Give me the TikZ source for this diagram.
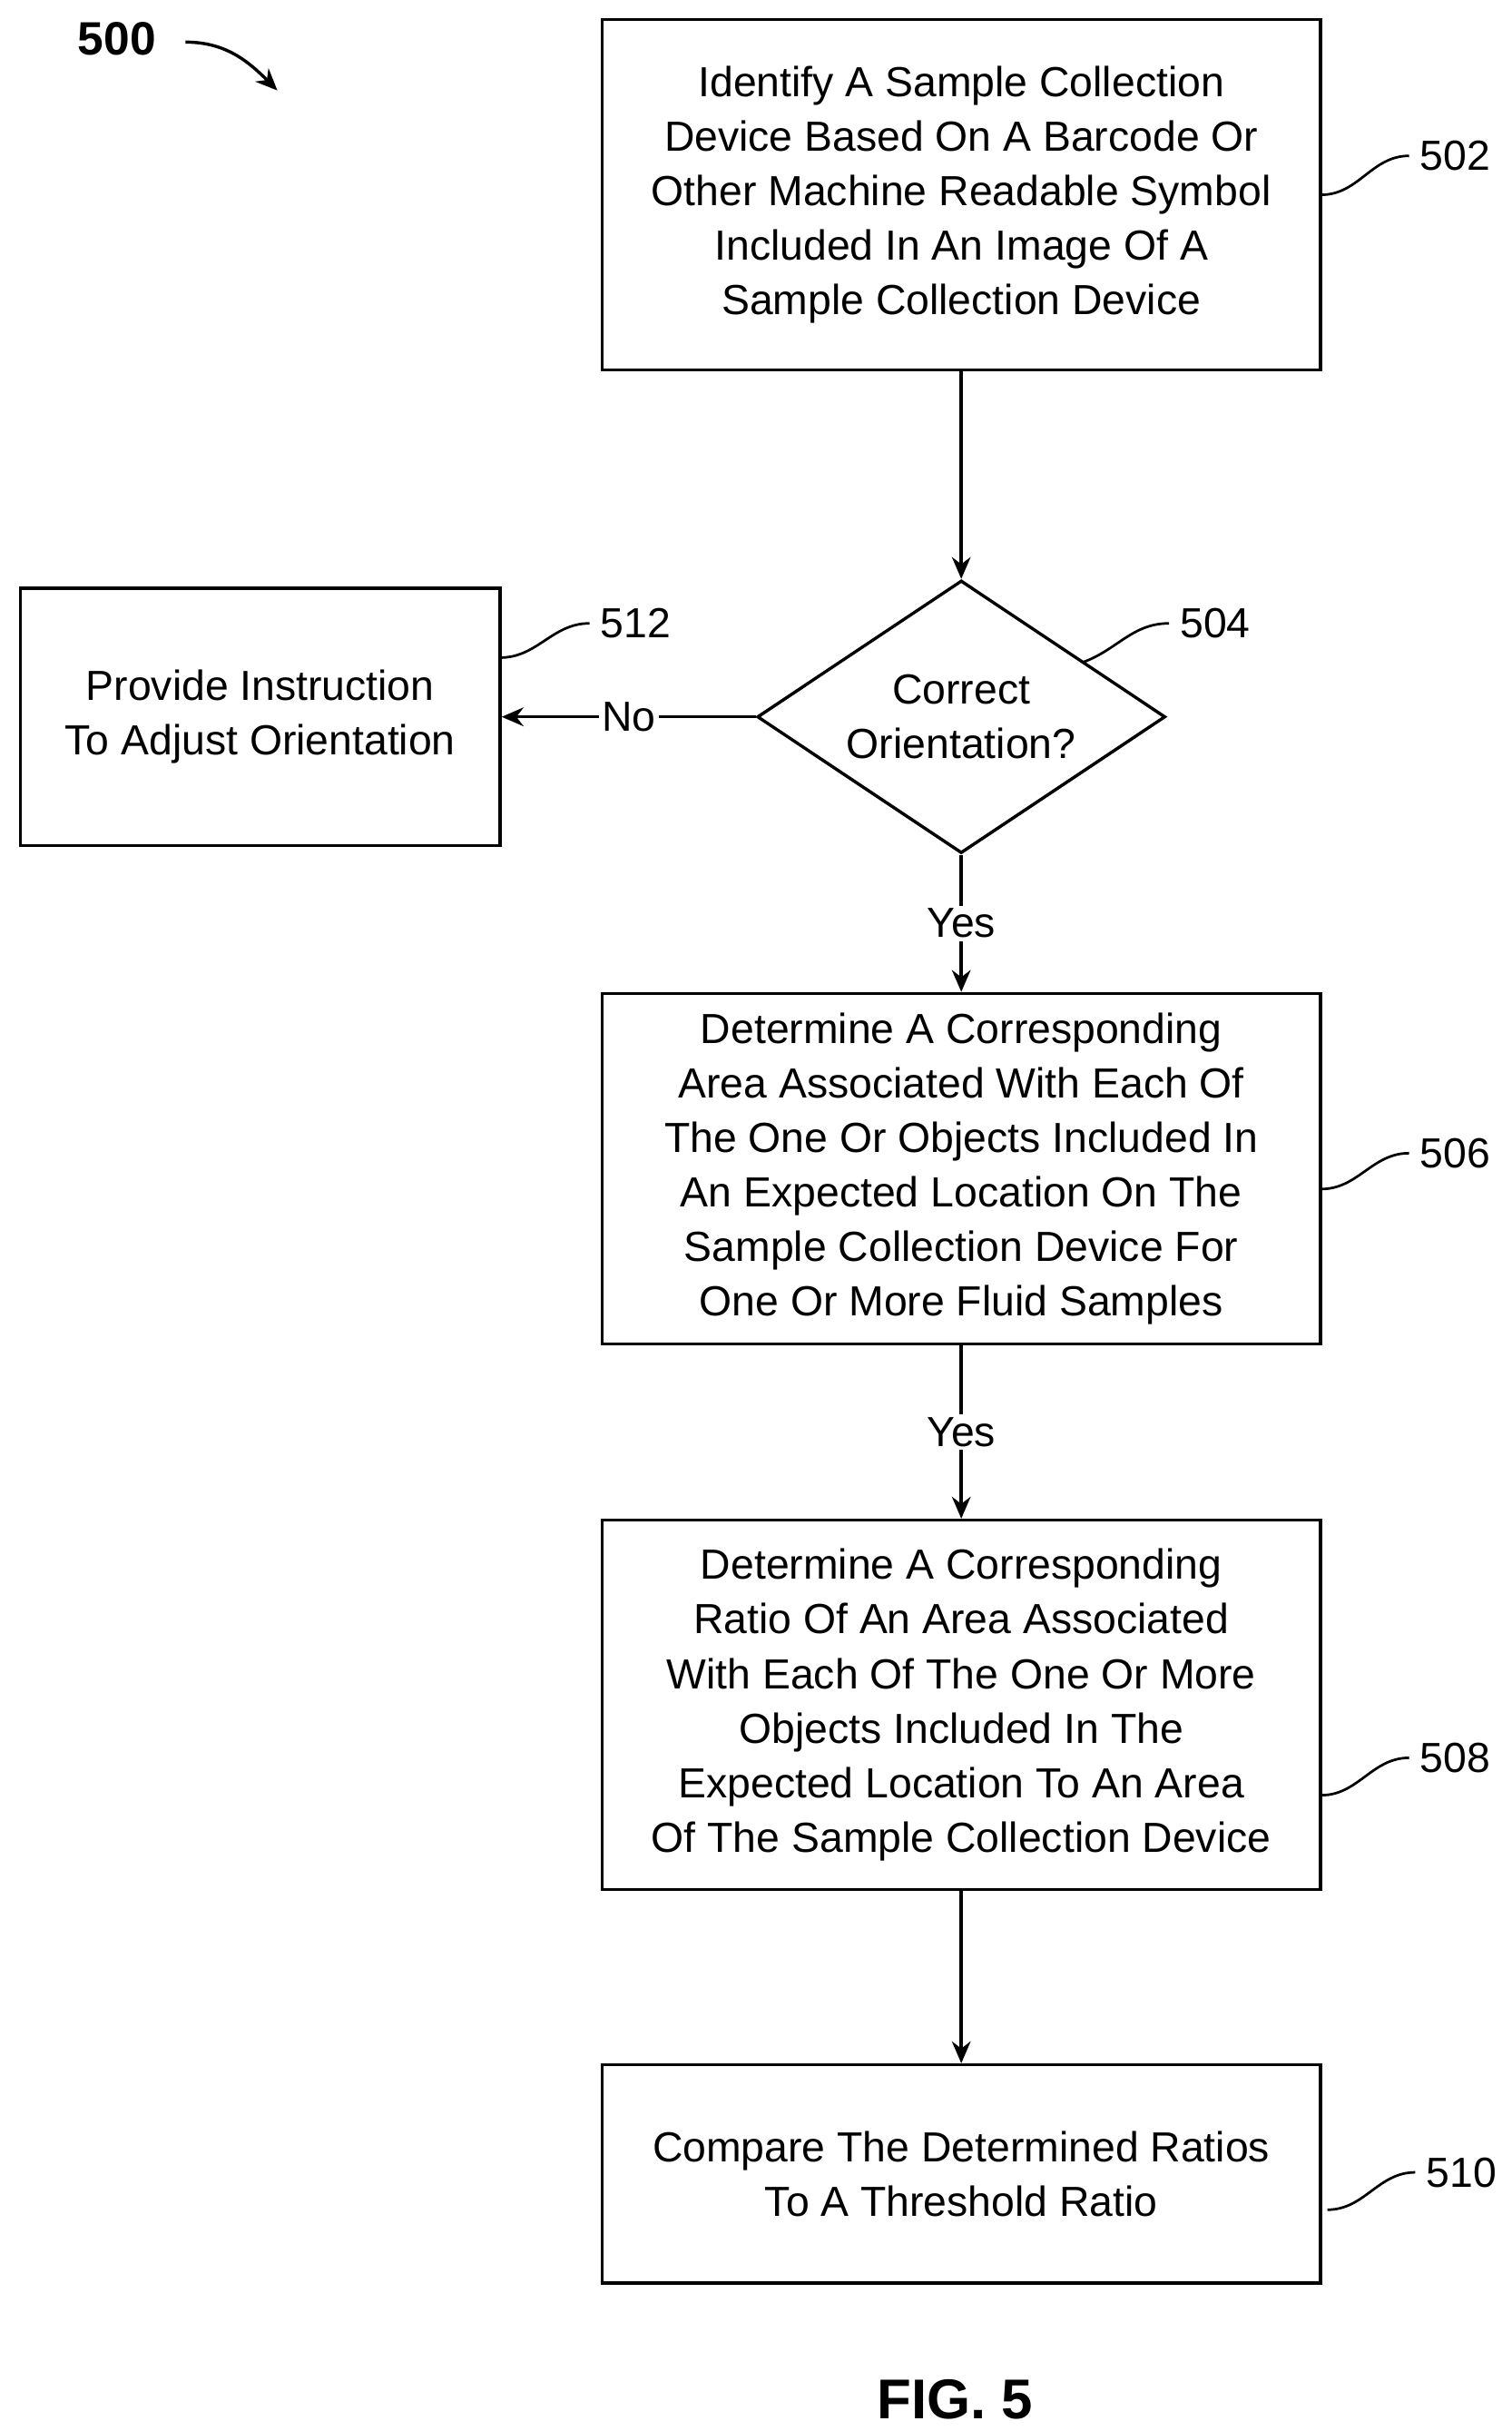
\documentclass[tikz,border=0pt]{standalone}
\usepackage{fontspec}
\setmainfont{Liberation Sans}
\usetikzlibrary{shapes.geometric,arrows.meta}
\begin{document}
\begin{tikzpicture}[x=0.5pt,y=-0.5pt,
  box/.style={draw,line width=1pt,inner sep=0pt,align=center,font=\fontsize{13.5}{17.5}\selectfont},
  lbl/.style={font=\fontsize{13.5}{16}\selectfont},
  arr/.style={line width=1pt,-{Stealth[length=7pt,width=6pt]}},
  sq/.style={line width=0.8pt}]
\useasboundingbox (0,0) rectangle (970,1560);
\node[box,minimum width=230.5pt,minimum height=112.5pt] (b502) at (617,125) {Identify A Sample Collection\\Device Based On A Barcode Or\\Other Machine Readable Symbol\\Included In An Image Of A\\Sample Collection Device};
\node[box,diamond,minimum width=131pt,minimum height=87.5pt,aspect=1.5] (d504) at (617,460) {};
\node[align=center,font=\fontsize{13.5}{17.5}\selectfont] (t504) at (617,460) {Correct\\Orientation?};
\node[box,minimum width=154pt,minimum height=82.5pt] (b512) at (167,460) {Provide Instruction\\To Adjust Orientation};
\node[box,minimum width=230.5pt,minimum height=112.5pt] (b506) at (617,750) {Determine A Corresponding\\Area Associated With Each Of\\The One Or Objects Included In\\An Expected Location On The\\Sample Collection Device For\\One Or More Fluid Samples};
\node[box,minimum width=230.5pt,minimum height=118.5pt] (b508) at (617,1094) {Determine A Corresponding\\Ratio Of An Area Associated\\With Each Of The One Or More\\Objects Included In The\\Expected Location To An Area\\Of The Sample Collection Device};
\node[box,minimum width=230.5pt,minimum height=70pt] (b510) at (617,1395) {Compare The Determined Ratios\\To A Threshold Ratio};
\draw[arr] (b502) -- (d504);
\draw[arr] (d504.west) -- (b512.east) node[pos=0.5,fill=white,inner sep=1pt,lbl] (no) {No};
\draw[arr] (d504.south) -- (b506.north) node[pos=0.5,fill=white,inner sep=1pt,lbl] (y1) {Yes};
\draw[arr] (b506.south) -- (b508.north) node[pos=0.5,fill=white,inner sep=1pt,lbl] (y2) {Yes};
\draw[arr] (b508) -- (b510);
% reference labels
\node[lbl] (l502) at (934,100) {502};
\node[lbl] (l504) at (780,400) {504};
\node[lbl] (l512) at (408,400) {512};
\node[lbl] (l506) at (934,740) {506};
\node[lbl] (l508) at (934,1128) {508};
\node[lbl] (l510) at (938,1394) {510};
\coordinate (c502) at (848,125); \coordinate (c504) at (695,425); \coordinate (c512) at (321,422);
\coordinate (c506) at (848,763); \coordinate (c508) at (848,1152); \coordinate (c510) at (852,1418);
\draw[sq] (c502) to[out=0,in=180] (l502.west);
\draw[sq] (c504) to[out=20,in=180] (l504.west);
\draw[sq] (c512) to[out=0,in=180] (l512.west);
\draw[sq] (c506) to[out=0,in=180] (l506.west);
\draw[sq] (c508) to[out=0,in=180] (l508.west);
\draw[sq] (c510) to[out=0,in=180] (l510.west);
\node[font=\fontsize{15}{18}\selectfont\bfseries] (n500) at (75,25) {500};
\coordinate (a500) at (178,58);
\draw[arr] (n500.east)++(12,2) to[out=0,in=135] (a500);
\node[font=\fontsize{18}{22}\selectfont\bfseries] (fig) at (613,1540) {FIG. 5};
\end{tikzpicture}
\end{document}
